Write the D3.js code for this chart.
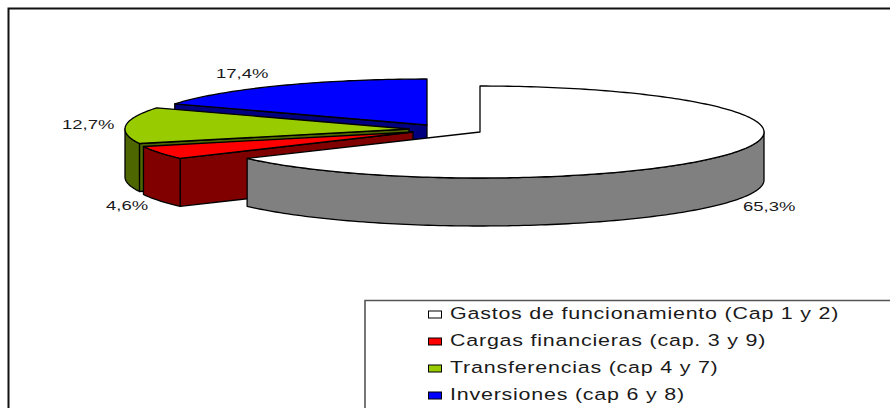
<!DOCTYPE html>
<html><head><meta charset="utf-8">
<script src="https://cdnjs.cloudflare.com/ajax/libs/d3/7.8.5/d3.min.js"></script>
<style>html,body{margin:0;padding:0;background:#fff;overflow:hidden}svg{display:block}text{font-family:"Liberation Sans",Arial,sans-serif;fill:#1a1a1a}</style>
</head><body><svg id="c" width="890" height="408"></svg>
<script>
const categories = ["Gastos de funcionamiento (Cap 1 y 2)","Cargas financieras (cap. 3 y 9)","Transferencias (cap 4 y 7)","Inversiones (cap 6 y 8)"];
const values = [65.3,4.6,12.7,17.4];
const valueLabels = ["65,3%","4,6%","12,7%","17,4%"];
const topColors = ["#ffffff","#ff0000","#99cc00","#0000ff"];
const sideColors = ["#808080","#800000","#4d6600","#000080"];
const centers = [[480,132],[413,132],[409,129],[427,125]];
const labelPos = [[743,211],[106,210],[62,129],[216,78]];
const rx = 284, ry = 46, depth = 48;

const svg = d3.select("#c");
// chart frame: top and left edges only are inside the picture
svg.append("path").attr("d","M8.5,420V8.5H900").attr("fill","none").attr("stroke","#111").attr("stroke-width",2);

const pie = d3.pie().sort(null).value(d=>d);
const arcs = pie(values);
const line = d3.line();
const sx = d3.scaleLinear().domain([-1,1]).range([-rx,rx]);
const sy = d3.scaleLinear().domain([-1,1]).range([-ry,ry]);
const pt = (c,a,dy=0)=>[c[0]+sx(Math.sin(a)),c[1]-sy(Math.cos(a))+dy];
const samples = (a0,a1)=>{const n=Math.max(2,Math.ceil((a1-a0)/0.02));return d3.range(n+1).map(i=>a0+(a1-a0)*i/n);};

// paint back to front: blue, green, red, white
[3,2,1,0].forEach(i=>{
  const s=arcs[i], c=centers[i], g=svg.append("g");
  const draw=(pts,fill)=>g.append("path").attr("d",line(pts)+"Z").attr("fill",fill)
    .attr("stroke","#000").attr("stroke-width",1.3).attr("stroke-linejoin","round");
  // cut face at the slice's start angle, seen when the slice lies above that edge
  if(i!==0){
    const e=pt(c,s.startAngle);
    draw([c,e,[e[0],e[1]+depth],[c[0],c[1]+depth]],sideColors[i]);
  }
  // outer wall: only the front half of the rim
  const a0=Math.max(s.startAngle,Math.PI/2), a1=Math.min(s.endAngle,Math.PI*1.5);
  if(a1>a0){
    const top=samples(a0,a1).map(a=>pt(c,a));
    const bot=samples(a0,a1).reverse().map(a=>pt(c,a,depth));
    draw(top.concat(bot),sideColors[i]);
  }
  draw([c].concat(samples(s.startAngle,s.endAngle).map(a=>pt(c,a))),topColors[i]);
});

// value labels
svg.append("g").selectAll("text").data(valueLabels).join("text")
  .attr("transform",(d,i)=>`translate(${labelPos[i][0]},${labelPos[i][1]}) scale(1.37,1)`)
  .attr("font-size",13.5).text(d=>d);

// legend
const lg=svg.append("g");
lg.append("path").attr("d","M365,420V300.5H900").attr("fill","none").attr("stroke","#555").attr("stroke-width",1.6);
const ly=d3.scalePoint().domain(d3.range(categories.length)).range([313.5,394.5]);
categories.forEach((t,i)=>{
  lg.append("rect").attr("x",428.5).attr("y",ly(i)-2.5).attr("width",13).attr("height",7).attr("fill",topColors[i]).attr("stroke","#000").attr("stroke-width",1);
  lg.append("text").attr("transform",`translate(450,${ly(i)+5.5}) scale(1.3,1)`).attr("font-size",16.5).attr("letter-spacing",0.6).text(t);
});
</script></body></html>
